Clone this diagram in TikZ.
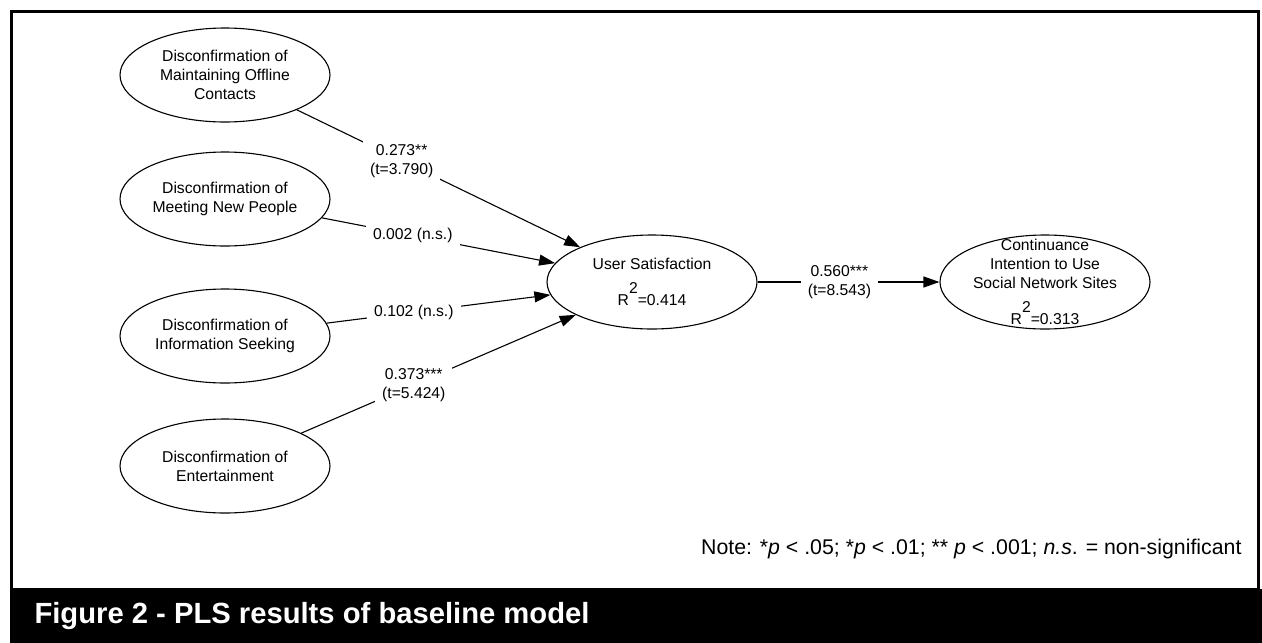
\documentclass[tikz,border=0pt]{standalone}
\usepackage{fontspec}
\setmainfont{Liberation Sans}
\usetikzlibrary{arrows.meta,shapes.geometric}

\newcommand{\rsq}[1]{R\raisebox{0.74em}{2}=#1}

\begin{document}
\begin{tikzpicture}[x=1pt, y=-1pt, >={Triangle[length=16pt,width=11pt]},
    every node/.style={font=\fontsize{15.7}{19}\selectfont},
    lv/.style={draw, ellipse, line width=1.1pt, minimum width=210pt, minimum height=94pt, inner sep=0pt},
    coef/.style={fill=white, align=center, inner xsep=7pt, inner ysep=5pt}]
        \useasboundingbox (0,0) rectangle (1262,643);
        \draw[line width=3pt] (11,11) rectangle (1258.5,589);
        \fill (9.5,589) rectangle (1262,643);
        \node[anchor=base west, text=white, font=\fontsize{29.2}{33}\bfseries] (title) at (31,623) {Figure 2 - PLS results of baseline model};

        \node[lv, label={[align=center]center:{Disconfirmation of\\Maintaining Offline\\Contacts}}] (mo) at (225,75) {};
        \node[lv, label={[align=center]center:{Disconfirmation of\\Meeting New People}}] (mp) at (225,199) {};
        \node[lv, label={[align=center]center:{Disconfirmation of\\Information Seeking}}] (is) at (225,336) {};
        \node[lv, label={[align=center]center:{Disconfirmation of\\Entertainment}}] (en) at (225,466) {};
        \node[lv, label={[align=center]center:{User Satisfaction\\[12pt]\rsq{0.414}}}] (us) at (652,282) {};
        \node[lv, label={[align=center]center:{Continuance\\Intention to Use\\Social Network Sites\\[12pt]\rsq{0.313}}}] (ci) at (1045,282) {};

        \foreach \s/\p/\txt in {mo/0.37/{0.273**\\(t=3.790)}, mp/0.39/{0.002 (n.s.)}, is/0.39/{0.102 (n.s.)}, en/0.41/{0.373***\\(t=5.424)}}
          {\draw[->, line width=1.1pt] (\s) -- node[coef, pos=\p] {\txt} (us);}
        \draw[->, line width=1.1pt] (us) -- node[coef, pos=0.45] {0.560***\\(t=8.543)} (ci);

        \node[anchor=base east, font=\fontsize{21.3}{25}\selectfont] (note) at (1245,554) {Note: *\textit{p} < .05; *\textit{p} < .01; ** \textit{p} < .001; \textit{n.s}. = non-significant};
      \end{tikzpicture}
\end{document}
